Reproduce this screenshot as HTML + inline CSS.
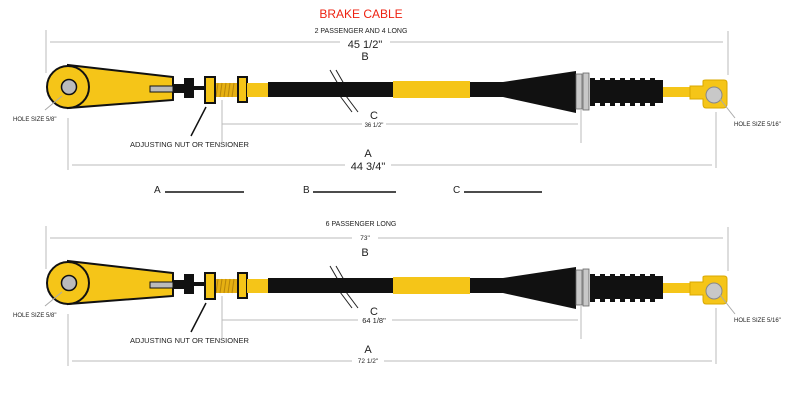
<!DOCTYPE html>
<html><head><meta charset="utf-8"><style>
body{margin:0;background:#fff;}
svg text{font-family:"Liberation Sans",sans-serif;fill:#222;}
</style></head><body>
<svg width="806" height="400" viewBox="0 0 806 400" xmlns="http://www.w3.org/2000/svg">
<defs>
<g id="cable">
  <!-- hatch -->
  <line x1="330" y1="70" x2="345" y2="96" stroke="#222" stroke-width="1"/>
  <line x1="336" y1="70" x2="351" y2="96" stroke="#222" stroke-width="1"/>
  <line x1="340" y1="96" x2="352" y2="112" stroke="#222" stroke-width="1"/>
  <line x1="346" y1="96" x2="358" y2="112" stroke="#222" stroke-width="1"/>
  <!-- eye -->
  <polygon points="68,65 173,77 173,100 68,108" fill="#f5c518" stroke="#111" stroke-width="2"/>
  <circle cx="68" cy="87" r="21" fill="#f5c518" stroke="#111" stroke-width="2"/>
  <circle cx="69" cy="87" r="7.5" fill="#bbb" stroke="#111" stroke-width="1.5"/>
  <rect x="150" y="86" width="23" height="6" fill="#bbb" stroke="#111" stroke-width="1"/>
  <rect x="173" y="84" width="12" height="9" fill="#111"/>
  <rect x="184" y="78" width="10" height="20" fill="#111"/>
  <rect x="194" y="86" width="12" height="4" fill="#111"/>
  <rect x="215" y="83" width="24" height="14" fill="#e6b012"/>
  <g stroke="#b8860b" stroke-width="1"><line x1="218" y1="83" x2="216" y2="97"/><line x1="222" y1="83" x2="220" y2="97"/><line x1="226" y1="83" x2="224" y2="97"/><line x1="230" y1="83" x2="228" y2="97"/><line x1="234" y1="83" x2="232" y2="97"/></g>
  <rect x="205" y="77" width="10" height="26" fill="#f5c518" stroke="#111" stroke-width="2"/>
  <rect x="238" y="77" width="9" height="25" fill="#f5c518" stroke="#111" stroke-width="2"/>
  <rect x="247" y="83" width="21" height="14" fill="#f5c518"/>
  <rect x="268" y="82" width="126" height="15" fill="#111"/>
  <rect x="393" y="81" width="77" height="17" fill="#f5c518"/>
  <polygon points="470,82 503,82 576,71 576,113 503,97 470,97" fill="#111"/>
  <rect x="576" y="74" width="6" height="35" fill="#c8c8c8" stroke="#666" stroke-width="0.8"/>
  <rect x="583" y="73" width="6" height="37" fill="#c8c8c8" stroke="#666" stroke-width="0.8"/>
  <rect x="590" y="80" width="73" height="23" fill="#111"/>
  <g fill="#111"><rect x="590" y="78" width="5" height="28"/><rect x="600" y="78" width="5" height="28"/><rect x="610" y="78" width="5" height="28"/><rect x="620" y="78" width="5" height="28"/><rect x="630" y="78" width="5" height="28"/><rect x="640" y="78" width="5" height="28"/><rect x="650" y="78" width="5" height="28"/></g>
  <rect x="663" y="87" width="28" height="10" fill="#f5c518"/>
  <path d="M690,86 L703,86 L703,81 Q703,80 706,80 L724,80 Q727,80 727,83 L727,104 Q727,108 723,108 L706,108 Q703,108 703,104 L703,99 L690,99 Z" fill="#f5c518" stroke="#d9a800" stroke-width="1"/>
  <circle cx="714" cy="95" r="8" fill="#c8c8c8" stroke="#888" stroke-width="1"/>
  <!-- leaders -->
  <line x1="45" y1="110" x2="62" y2="96" stroke="#aaa" stroke-width="1"/>
  <line x1="720" y1="99" x2="735" y2="118" stroke="#aaa" stroke-width="1"/>
  <line x1="191" y1="136" x2="206" y2="107" stroke="#111" stroke-width="1.5"/>
  <text x="130" y="147" font-size="7.5">ADJUSTING NUT OR TENSIONER</text>
  <text x="13" y="121" font-size="6">HOLE SIZE 5/8"</text>
  <text x="734" y="126" font-size="6">HOLE SIZE 5/16"</text>
  <!-- dimension lines -->
  <g stroke="#bbb" stroke-width="1">
    <line x1="46" y1="30" x2="46" y2="73"/>
    <line x1="728" y1="31" x2="728" y2="75"/>
    <line x1="222" y1="100" x2="222" y2="145"/>
    <line x1="581" y1="110" x2="581" y2="143"/>
    <line x1="68" y1="118" x2="68" y2="170"/>
    <line x1="716" y1="112" x2="716" y2="168"/>
    <line x1="222" y1="124" x2="578" y2="124"/>
    <line x1="72" y1="165" x2="712" y2="165"/>
    <line x1="50" y1="42" x2="723" y2="42"/>
  </g>
  <text x="374" y="119" font-size="11" text-anchor="middle">C</text>
  <text x="368" y="157" font-size="11" text-anchor="middle">A</text>
  <text x="365" y="60" font-size="11" text-anchor="middle">B</text>
</g>
</defs>
<text x="361" y="18" font-size="12" fill="#e21" style="fill:#e21" text-anchor="middle">BRAKE CABLE</text>
<text x="361" y="33" font-size="7" text-anchor="middle">2 PASSENGER  AND 4 LONG</text>
<use href="#cable"/>
<rect x="340" y="38" width="50" height="10" fill="#fff"/>
<text x="365" y="48" font-size="11" text-anchor="middle">45 1/2"</text>
<rect x="362" y="120" width="24" height="8" fill="#fff"/>
<text x="374" y="127" font-size="6" text-anchor="middle">36 1/2"</text>
<rect x="345" y="160" width="46" height="10" fill="#fff"/>
<text x="368" y="170" font-size="11" text-anchor="middle">44 3/4"</text>
<text x="154" y="193" font-size="10">A</text><line x1="165" y1="192" x2="244" y2="192" stroke="#111" stroke-width="1.5"/>
<text x="303" y="193" font-size="10">B</text><line x1="313" y1="192" x2="396" y2="192" stroke="#111" stroke-width="1.5"/>
<text x="453" y="193" font-size="10">C</text><line x1="464" y1="192" x2="542" y2="192" stroke="#111" stroke-width="1.5"/>
<text x="361" y="226" font-size="7" text-anchor="middle">6 PASSENGER LONG</text>
<use href="#cable" transform="translate(0,196)"/>
<rect x="352" y="233" width="26" height="9" fill="#fff"/>
<text x="365" y="240" font-size="6.5" text-anchor="middle">73"</text>
<rect x="358" y="316" width="34" height="9" fill="#fff"/>
<text x="374" y="323" font-size="7.5" text-anchor="middle">64 1/8"</text>
<rect x="352" y="356" width="32" height="9" fill="#fff"/>
<text x="368" y="363" font-size="6.5" text-anchor="middle">72 1/2"</text>
</svg>
</body></html>
